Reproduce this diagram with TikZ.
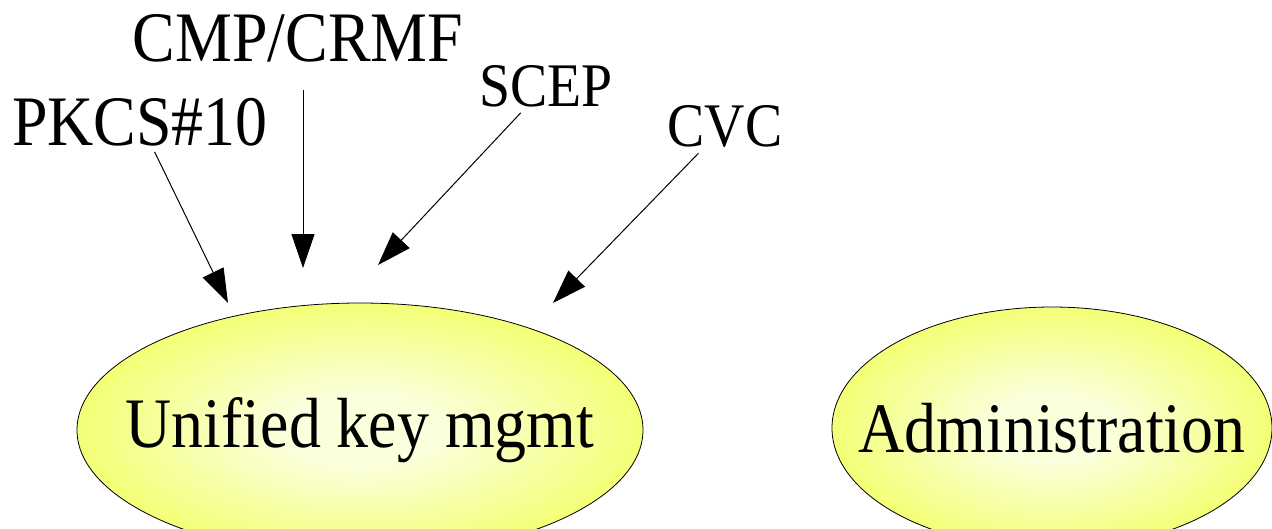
\documentclass[tikz,border=0pt]{standalone}
\usepackage{fontspec}
\setmainfont{Liberation Serif}[FakeStretch=0.9]
\usepackage{tikz}
\usetikzlibrary{arrows.meta,shapes.geometric}

\definecolor{glowin}{HTML}{FBFFDC}
\definecolor{glowmid}{HTML}{F3FF70}
\definecolor{glowout}{HTML}{E8FF00}
\pgfdeclareradialshading{keyglow}{\pgfpoint{0bp}{0bp}}{%
  color(0bp)=(glowin); color(7bp)=(glowin); color(26bp)=(glowmid);
  color(44bp)=(glowout); color(50bp)=(glowout)}

\tikzset{
  proto/.style={inner sep=6pt,font=\fontsize{62}{70}\selectfont},
  bigproto/.style={proto,font=\fontsize{71}{80}\selectfont},
  module/.style={ellipse,draw=black,line width=0.8pt,shading=keyglow,
    inner sep=0pt,font=\fontsize{71}{80}\selectfont},
  feed/.style={line width=1pt,-{Triangle[length=34pt,width=23pt]}}
}

\begin{document}
\begin{tikzpicture}[x=1pt,y=-1pt]
\useasboundingbox (0,0) rectangle (1272,528);
% the two modules (zero-width text so the ellipse keeps its size)
\node[module,minimum width=566pt,minimum height=254pt] (ukm) at (360,430)
  {\makebox[0pt]{Unified key mgmt}};
\node[module,minimum width=440pt,minimum height=242pt] (admin) at (1052,428)
  {\makebox[0pt]{Administration}};
% request formats
\node[bigproto,anchor=base] (pkcs) at (140,145) {PKCS\#10};
\node[bigproto,anchor=base] (cmp) at (298,61) {CMP/CRMF};
\node[proto,anchor=base] (scep) at (546,106) {SCEP};
\node[proto,anchor=base] (cvc) at (725,146) {CVC};
\coordinate (pkcsend) at (228,303);
\coordinate (cmpend) at (303,268);
\coordinate (scepend) at (378,265);
\coordinate (cvcend) at (553,303);
\draw[feed] (pkcs) -- (pkcsend);
\draw[feed,shorten <=22pt] (cmp.south -| cmpend) -- (cmpend);
\draw[feed] (scep) -- (scepend);
\draw[feed] (cvc) -- (cvcend);
\end{tikzpicture}
\end{document}
